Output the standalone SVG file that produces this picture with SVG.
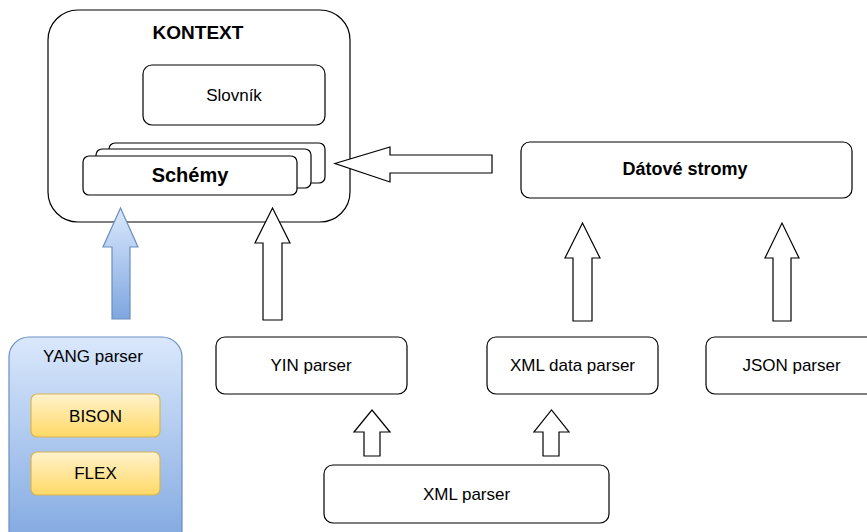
<svg xmlns="http://www.w3.org/2000/svg" width="867" height="532" viewBox="0 0 867 532">
<style>
.box{fill:#fff;stroke:#000;stroke-width:1.2}
.arr{fill:#fff;stroke:#000;stroke-width:1.2;stroke-linejoin:miter}
text{font-family:"Liberation Sans",Arial,sans-serif;font-size:17px;text-anchor:middle;fill:#000}
.b{font-weight:bold}
</style>
<defs>
<linearGradient id="gBlue" x1="0" y1="0" x2="0" y2="1"><stop offset="0" stop-color="#dae8fc"/><stop offset="1" stop-color="#7ea6e0"/></linearGradient>
<linearGradient id="gYel" x1="0" y1="0" x2="0" y2="1"><stop offset="0" stop-color="#fff2cc"/><stop offset="1" stop-color="#ffd966"/></linearGradient>
</defs>
<g id="kontext">
<rect class="box" x="48" y="10" width="302" height="212" rx="30"/>
<text class="b" x="198" y="39" style="font-size:19px">KONTEXT</text>
</g>
<g id="slovnik">
<rect class="box" x="143" y="65" width="182" height="60" rx="9"/>
<text x="234" y="101">Slovník</text>
</g>
<g id="schemy">
<rect class="box" x="109" y="143" width="216" height="40" rx="6"/>
<rect class="box" x="96" y="149" width="215" height="39" rx="6"/>
<rect class="box" x="83" y="156" width="214" height="39" rx="6"/>
<text class="b" x="190" y="182" style="font-size:20px">Schémy</text>
</g>
<g id="datove">
<rect class="box" x="521" y="142" width="331" height="56" rx="9"/>
<text class="b" x="685" y="175" style="font-size:18px">Dátové stromy</text>
</g>
<g id="yang">
<rect x="9" y="337" width="173" height="215" rx="20" fill="url(#gBlue)" stroke="#6c8ebf" stroke-width="1.2"/>
<text x="93" y="362">YANG parser</text>
</g>
<g id="bison">
<rect x="31" y="394" width="129" height="43" rx="6" fill="url(#gYel)" stroke="#d6b656" stroke-width="1.2"/>
<text x="95.5" y="422">BISON</text>
</g>
<g id="flex">
<rect x="31" y="452" width="129" height="43" rx="6" fill="url(#gYel)" stroke="#d6b656" stroke-width="1.2"/>
<text x="95.5" y="479">FLEX</text>
</g>
<g id="yin">
<rect class="box" x="216" y="337" width="191" height="57" rx="9"/>
<text x="311" y="371">YIN parser</text>
</g>
<g id="xmldata">
<rect class="box" x="487" y="337" width="171" height="57" rx="9"/>
<text x="572.5" y="371">XML data parser</text>
</g>
<g id="json">
<rect class="box" x="706" y="337" width="171" height="57" rx="9"/>
<text x="791.5" y="371">JSON parser</text>
</g>
<g id="xml">
<rect class="box" x="324" y="465" width="285" height="58" rx="9"/>
<text x="466.5" y="500">XML parser</text>
</g>
<g id="connectors">
<path d="M112,319 L112,247 L103,247 L120.5,208 L138,247 L130,247 L130,319 Z" fill="url(#gBlue)" stroke="#6c8ebf" stroke-width="1.2"/>
<path class="arr" d="M263,320 L263,243 L255,243 L272.5,208 L290,243 L282,243 L282,320 Z"/>
<path class="arr" d="M492,155 L390,155 L390,147 L335,163.5 L390,182 L390,173 L492,173 Z"/>
<path class="arr" d="M573,321 L573,258 L565,258 L582.5,223 L600,258 L592,258 L592,321 Z"/>
<path class="arr" d="M773,321 L773,258 L765,258 L782,223 L799,258 L791,258 L791,321 Z"/>
<path class="arr" d="M364,456 L364,432 L354,432 L372,410 L390,432 L380,432 L380,456 Z"/>
<path class="arr" d="M543,456 L543,432 L534,432 L551.5,410 L569,432 L559,432 L559,456 Z"/>
</g>
</svg>
